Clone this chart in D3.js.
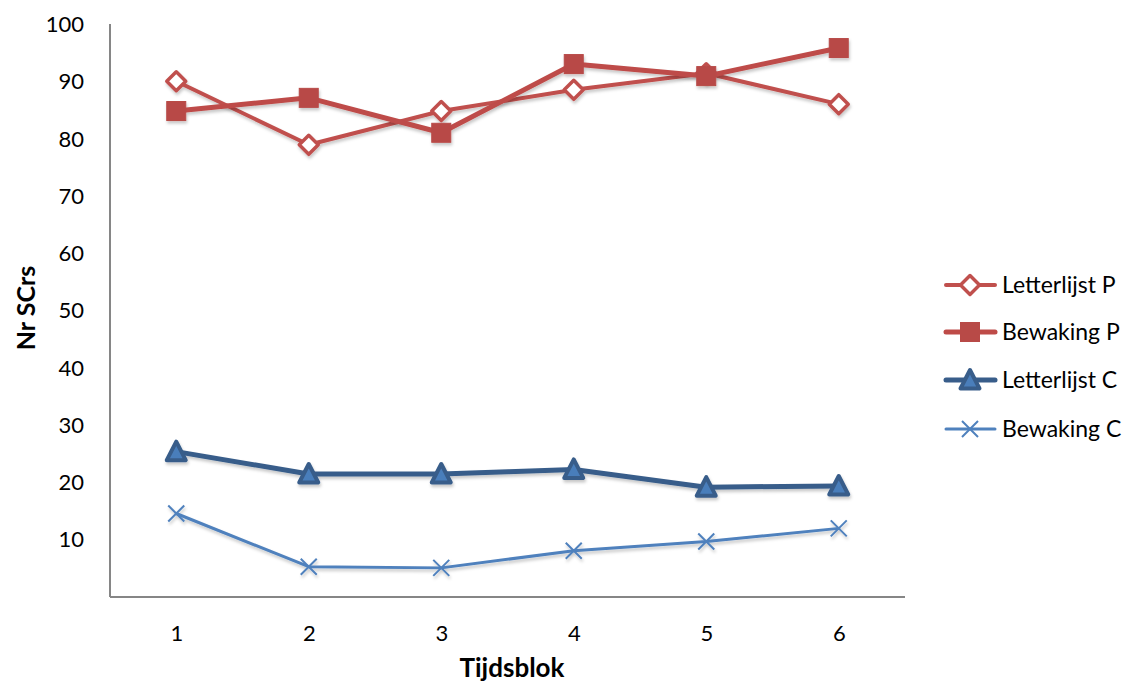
<!DOCTYPE html>
<html>
<head>
<meta charset="utf-8">
<script src="https://cdn.jsdelivr.net/npm/d3@7"></script>
<style>
  body { margin: 0; background: #fff; }
  svg { display: block; font-family: Lato, "Open Sans", "Liberation Sans", sans-serif; }
</style>
</head>
<body>
<svg id="chart" width="1133" height="684"></svg>
<script>
// Time blocks on the x axis
const blocks = [1, 2, 3, 4, 5, 6];
const yTicks = [10, 20, 30, 40, 50, 60, 70, 80, 90, 100];

// Number of SCRs per block for each condition
const letterlijstP = [90.0, 78.9, 84.8, 88.5, 91.4, 86.0];
const bewakingP    = [84.8, 87.1, 81.0, 93.0, 90.9, 95.8];
const letterlijstC = [25.3, 21.4, 21.4, 22.2, 19.1, 19.3];
const bewakingC    = [14.5, 5.2, 5.0, 8.0, 9.6, 11.9];

const seriesNames = ["Letterlijst P", "Bewaking P", "Letterlijst C", "Bewaking C"];

const series = [
  { name: seriesNames[0], values: letterlijstP, stroke: "#C0504D", width: 4, marker: "diamond", fill: "#fff", mstroke: "#C0504D" },
  { name: seriesNames[1], values: bewakingP,    stroke: "#BE4B48", width: 5, marker: "square",  fill: "#B84A47", mstroke: "#B84A47" },
  { name: seriesNames[2], values: letterlijstC, stroke: "#385D8A", width: 5, marker: "triangle", fill: "#4A7EBB", mstroke: "#385D8A" },
  { name: seriesNames[3], values: bewakingC,    stroke: "#4F81BD", width: 3, marker: "cross",   fill: "none", mstroke: "#4F81BD" }
];

const svg = d3.select("#chart");
const plot = { left: 110, right: 905, top: 24, bottom: 597 };

const x = d3.scalePoint().domain(blocks).range([plot.left, plot.right]).padding(0.5);
const y = d3.scaleLinear().domain([0, 100]).range([596.5, 24]);

// soft drop shadow under the series lines
const defs = svg.append("defs");
const f = defs.append("filter").attr("id", "shadow").attr("x", "-5%").attr("y", "-20%").attr("width", "110%").attr("height", "140%");
f.append("feDropShadow").attr("dx", 1).attr("dy", 2.5).attr("stdDeviation", 1.6)
  .attr("flood-color", "#000").attr("flood-opacity", 0.22);

// axes
const yAxis = d3.axisLeft(y).tickValues(yTicks).tickSize(0).tickPadding(26);
const gy = svg.append("g").attr("transform", `translate(${plot.left},0)`).call(yAxis);
gy.select(".domain").attr("stroke", "#868686").attr("stroke-width", 2).attr("d", `M0,${plot.top}V${plot.bottom}`);
gy.selectAll("text").attr("font-size", 22).attr("fill", "#000").attr("dy", "0.35em")
  .attr("font-family", "Lato, sans-serif");

const xAxis = d3.axisBottom(x).tickSize(0).tickPadding(0);
const gx = svg.append("g").attr("transform", `translate(0,${plot.bottom})`).call(xAxis);
gx.select(".domain").attr("stroke", "#868686").attr("stroke-width", 2).attr("d", `M${plot.left},0H${plot.right}`);
gx.selectAll("text").attr("font-size", 22).attr("fill", "#000").attr("y", 36).attr("dy", "0.35em")
  .attr("font-family", "Lato, sans-serif");

// axis titles
svg.append("text").attr("x", 512).attr("y", 677).attr("text-anchor", "middle")
  .attr("font-size", 26).attr("font-weight", "bold").text("Tijdsblok");
svg.append("text").attr("transform", "translate(35,308) rotate(-90)").attr("text-anchor", "middle")
  .attr("font-size", 25).attr("font-weight", "bold").text("Nr SCrs");

// marker shapes
function drawMarker(g, s, cx, cy) {
  if (s.marker === "diamond") {
    const r = 9.5;
    g.append("path").attr("d", `M${cx},${cy - r}L${cx + r},${cy}L${cx},${cy + r}L${cx - r},${cy}Z`)
      .attr("fill", s.fill).attr("stroke", s.mstroke).attr("stroke-width", 3.5).attr("stroke-linejoin", "round");
  } else if (s.marker === "square") {
    const r = 9.5;
    g.append("rect").attr("x", cx - r).attr("y", cy - r).attr("width", 2 * r).attr("height", 2 * r)
      .attr("fill", s.fill).attr("stroke", s.mstroke).attr("stroke-width", 1);
  } else if (s.marker === "triangle") {
    const r = 9.5;
    g.append("path").attr("d", `M${cx},${cy - 10}L${cx + r},${cy + 8.5}L${cx - r},${cy + 8.5}Z`)
      .attr("fill", s.fill).attr("stroke", s.mstroke).attr("stroke-width", 4).attr("stroke-linejoin", "round");
  } else if (s.marker === "cross") {
    const r = 8;
    g.append("path").attr("d", `M${cx - r},${cy - r}L${cx + r},${cy + r}M${cx - r},${cy + r}L${cx + r},${cy - r}`)
      .attr("stroke", s.mstroke).attr("stroke-width", 2).attr("fill", "none");
  }
}

const line = d3.line().x((d, i) => x(blocks[i])).y(d => y(d));

// series: draw from back to front
const order = [3, 2, 0, 1];
order.forEach(k => {
  const s = series[k];
  const g = svg.append("g").attr("filter", "url(#shadow)");
  g.append("path").datum(s.values).attr("d", line)
    .attr("fill", "none").attr("stroke", s.stroke).attr("stroke-width", s.width)
    .attr("stroke-linejoin", "round").attr("stroke-linecap", "round");
  s.values.forEach((v, i) => drawMarker(g, s, x(blocks[i]), y(v)));
});

// legend
const legendY = [285, 332, 380, 429];
series.forEach((s, i) => {
  const g = svg.append("g");
  const ly = legendY[i];
  g.append("line").attr("x1", 946).attr("x2", 995).attr("y1", ly).attr("y2", ly)
    .attr("stroke", s.stroke).attr("stroke-width", s.width).attr("stroke-linecap", "round");
  drawMarker(g, s, 970, ly);
  g.append("text").attr("x", 1002).attr("y", ly).attr("dy", "0.35em")
    .attr("font-size", 23).attr("fill", "#000").text(s.name);
});
</script>
</body>
</html>
